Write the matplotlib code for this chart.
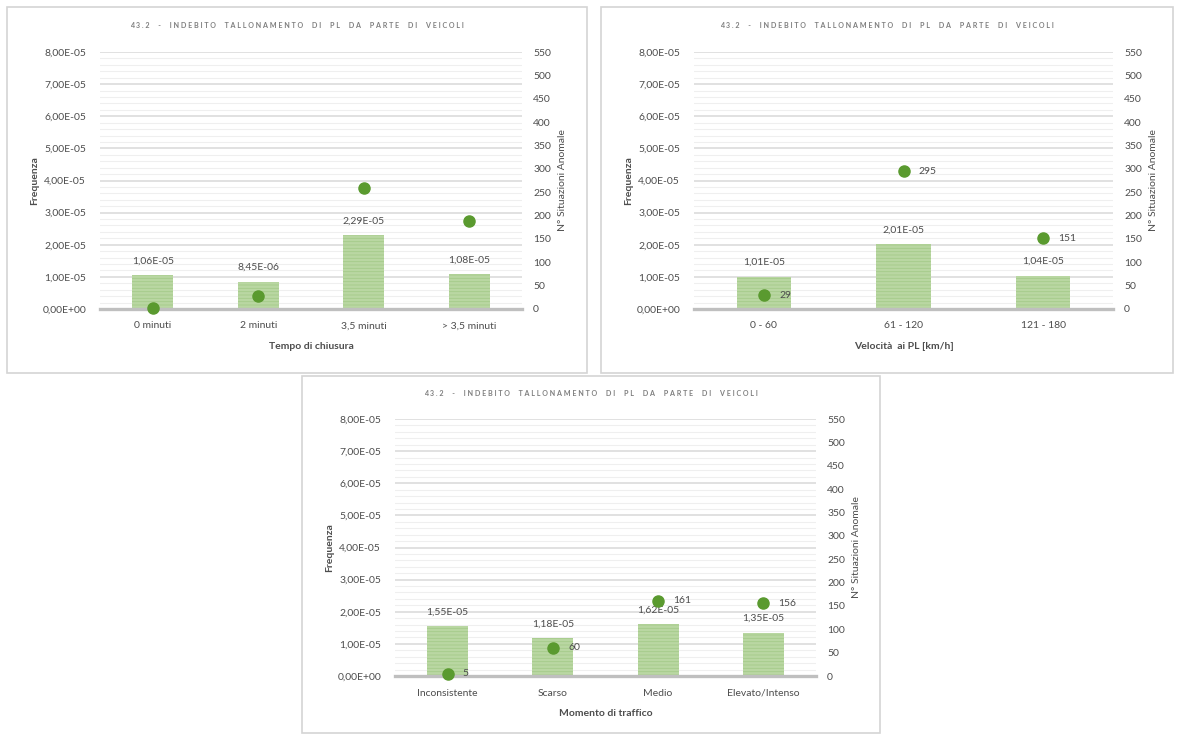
import matplotlib
matplotlib.use("Agg")
import matplotlib.pyplot as plt
from matplotlib.patches import Rectangle
from matplotlib.ticker import FuncFormatter, MultipleLocator

plt.rcParams["font.family"] = ["Lato", "DejaVu Sans"]
plt.rcParams["hatch.linewidth"] = 0.6

TITLE = "43.2 - INDEBITO TALLONAMENTO DI PL DA PARTE DI VEICOLI"

cat1 = ["0 minuti", "2 minuti", "3,5 minuti", "> 3,5 minuti"]
freq1 = [1.06e-5, 8.45e-6, 2.29e-5, 1.08e-5]
count1 = [2, 28, 259, 188]

cat2 = ["0 - 60", "61 - 120", "121 - 180"]
freq2 = [1.01e-5, 2.01e-5, 1.04e-5]
count2 = [29, 295, 151]

cat3 = ["Inconsistente", "Scarso", "Medio", "Elevato/Intenso"]
freq3 = [1.55e-5, 1.18e-5, 1.62e-5, 1.35e-5]
count3 = [5, 60, 161, 156]

W, H = 1179, 735
TXT = "#4d4d4d"
BAR = "#b9d7a2"
BAR_HATCH = "#a5ca8a"
DOT = "#5a9a2f"


def sci(v, pos=None):
    return f"{v:.2E}".replace(".", ",")


def rect(x0, y0, x1, y1):
    return [x0 / W, 1 - y1 / H, (x1 - x0) / W, (y1 - y0) / H]


fig = plt.figure(figsize=(W / 100, H / 100), dpi=100)
fig.patch.set_facecolor("white")


def panel(border, axbox, title_y, cats, freq, counts, xlabel, dot_labels):
    bx0, by0, bx1, by1 = border
    fig.patches.append(Rectangle((bx0 / W, 1 - by1 / H), (bx1 - bx0) / W, (by1 - by0) / H,
                                 transform=fig.transFigure, fill=False,
                                 edgecolor="#d4d4d4", linewidth=1.2))
    spaced = " ".join(TITLE.replace(" ", "  "))
    fig.text((bx0 + bx1) / 2 / W, 1 - title_y / H, spaced, ha="center", va="center",
             fontsize=5.1, fontweight="bold", color="#7f7f7f")

    ax = fig.add_axes(rect(*axbox))
    x = list(range(len(cats)))
    ax.bar(x, freq, width=0.39, color=BAR, edgecolor=BAR_HATCH, hatch="-----",
           linewidth=0, zorder=2)
    for xi, v in zip(x, freq):
        ax.annotate(sci(v), (xi, v), xytext=(0, 7), textcoords="offset points",
                    ha="center", va="bottom", fontsize=7.5, color=TXT)
    ax.set_xlim(-0.5, len(cats) - 0.5)
    ax.set_ylim(0, 8e-5)
    ax.yaxis.set_major_locator(MultipleLocator(1e-5))
    ax.yaxis.set_minor_locator(MultipleLocator(2e-6))
    ax.yaxis.set_major_formatter(FuncFormatter(sci))
    ax.grid(axis="y", which="major", color="#d9d9d9", linewidth=1.1, zorder=0)
    ax.grid(axis="y", which="minor", color="#efefef", linewidth=0.8, zorder=0)
    ax.set_axisbelow(True)
    ax.set_xticks(x)
    ax.set_xticklabels(cats)
    ax.tick_params(which="both", length=0, labelsize=7.5, labelcolor=TXT)
    ax.tick_params(axis="x", pad=9)
    ax.tick_params(axis="y", pad=10)
    for s in ["top", "left", "right"]:
        ax.spines[s].set_visible(False)
    ax.spines["bottom"].set_color("#bfbfbf")
    ax.spines["bottom"].set_linewidth(2.4)
    ax.spines["bottom"].set_zorder(3)
    ax.set_xlabel(xlabel, fontsize=7.5, fontweight="bold", color=TXT, labelpad=8)
    ax.set_ylabel("Frequenza", fontsize=7.5, fontweight="bold", color=TXT, labelpad=2)

    ax2 = ax.twinx()
    ax2.plot(x, counts, linestyle="none", marker="o", markersize=8, color=DOT,
             zorder=4, clip_on=False)
    if dot_labels:
        for xi, c in zip(x, counts):
            ax2.annotate(str(c), (xi, c), xytext=(11, 0), textcoords="offset points",
                         ha="left", va="center", fontsize=7.5, color=TXT)
    ax2.set_ylim(0, 550)
    ax2.yaxis.set_major_locator(MultipleLocator(50))
    ax2.tick_params(length=0, labelsize=7.5, labelcolor=TXT, pad=8)
    for s in ax2.spines.values():
        s.set_visible(False)
    ax2.set_ylabel("N° Situazioni Anomale", fontsize=7.5, color=TXT, labelpad=5)


panel((7, 7, 587, 373), (100, 52, 522, 309), 25, cat1, freq1, count1,
      "Tempo di chiusura", False)
panel((601, 7, 1173, 373), (694, 52, 1113, 309), 25, cat2, freq2, count2,
      "Velocità  ai PL [km/h]", True)
panel((302, 376, 880, 733), (395, 419, 816, 676), 393, cat3, freq3, count3,
      "Momento di traffico", True)

fig.savefig("out.png", dpi=100, facecolor="white")
